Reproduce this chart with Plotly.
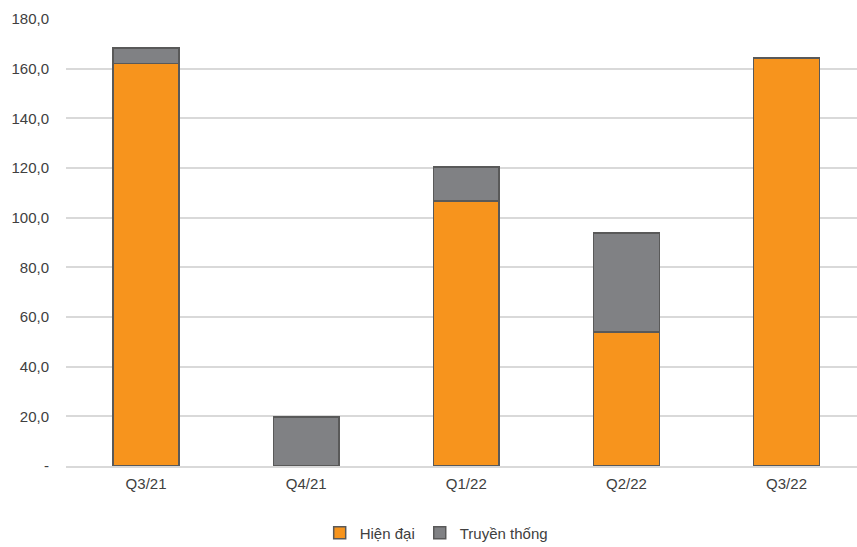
import plotly.graph_objects as go

quarters = ["Q3/21", "Q4/21", "Q1/22", "Q2/22", "Q3/22"]
hien_dai = [162.0, 0.0, 106.7, 54.0, 164.3]
truyen_thong = [6.4, 19.8, 13.7, 39.8, 0.0]

tick_vals = [0, 20, 40, 60, 80, 100, 120, 140, 160, 180]
tick_text = ["-", "20,0", "40,0", "60,0", "80,0", "100,0", "120,0", "140,0", "160,0", "180,0"]

orange = "#F7941D"
grey = "#808184"
edge = "#595959"


def nonzero(values):
    # empty segments are left out so no flat outline is drawn
    return [v if v else None for v in values]


fig = go.Figure()
fig.add_trace(go.Bar(
    x=list(range(len(quarters))), y=nonzero(hien_dai), name="Hiện đại",
    marker=dict(color=orange, line=dict(color=edge, width=1.5)),
    width=0.41,
))
fig.add_trace(go.Bar(
    x=list(range(len(quarters))), y=nonzero(truyen_thong), name="Truyền thống",
    marker=dict(color=grey, line=dict(color=edge, width=1.5)),
    width=0.41,
))

fig.update_layout(
    width=857, height=547,
    barmode="stack",
    plot_bgcolor="white", paper_bgcolor="white",
    margin=dict(l=66, r=0, t=19, b=81, autoexpand=False),
    font=dict(family="Liberation Sans, Arial, sans-serif", size=15, color="#404040"),
    xaxis=dict(
        range=[-0.5, 4.44],
        tickmode="array", tickvals=list(range(len(quarters))), ticktext=quarters,
        showgrid=False, showline=True, linecolor="#d9d9d9", linewidth=2,
        ticks="", ticklabelstandoff=3, zeroline=False,
    ),
    yaxis=dict(
        range=[0, 180],
        tickmode="array", tickvals=tick_vals, ticktext=tick_text,
        showgrid=True, gridcolor="#d9d9d9", gridwidth=2,
        zeroline=False, showline=False, ticks="", ticklabelstandoff=16,
    ),
    legend=dict(
        orientation="h", x=0.468, xanchor="center", y=-0.15, yanchor="middle",
        font=dict(size=15, color="#404040"), itemwidth=30, traceorder="normal",
    ),
)

fig.write_html("out.html")
